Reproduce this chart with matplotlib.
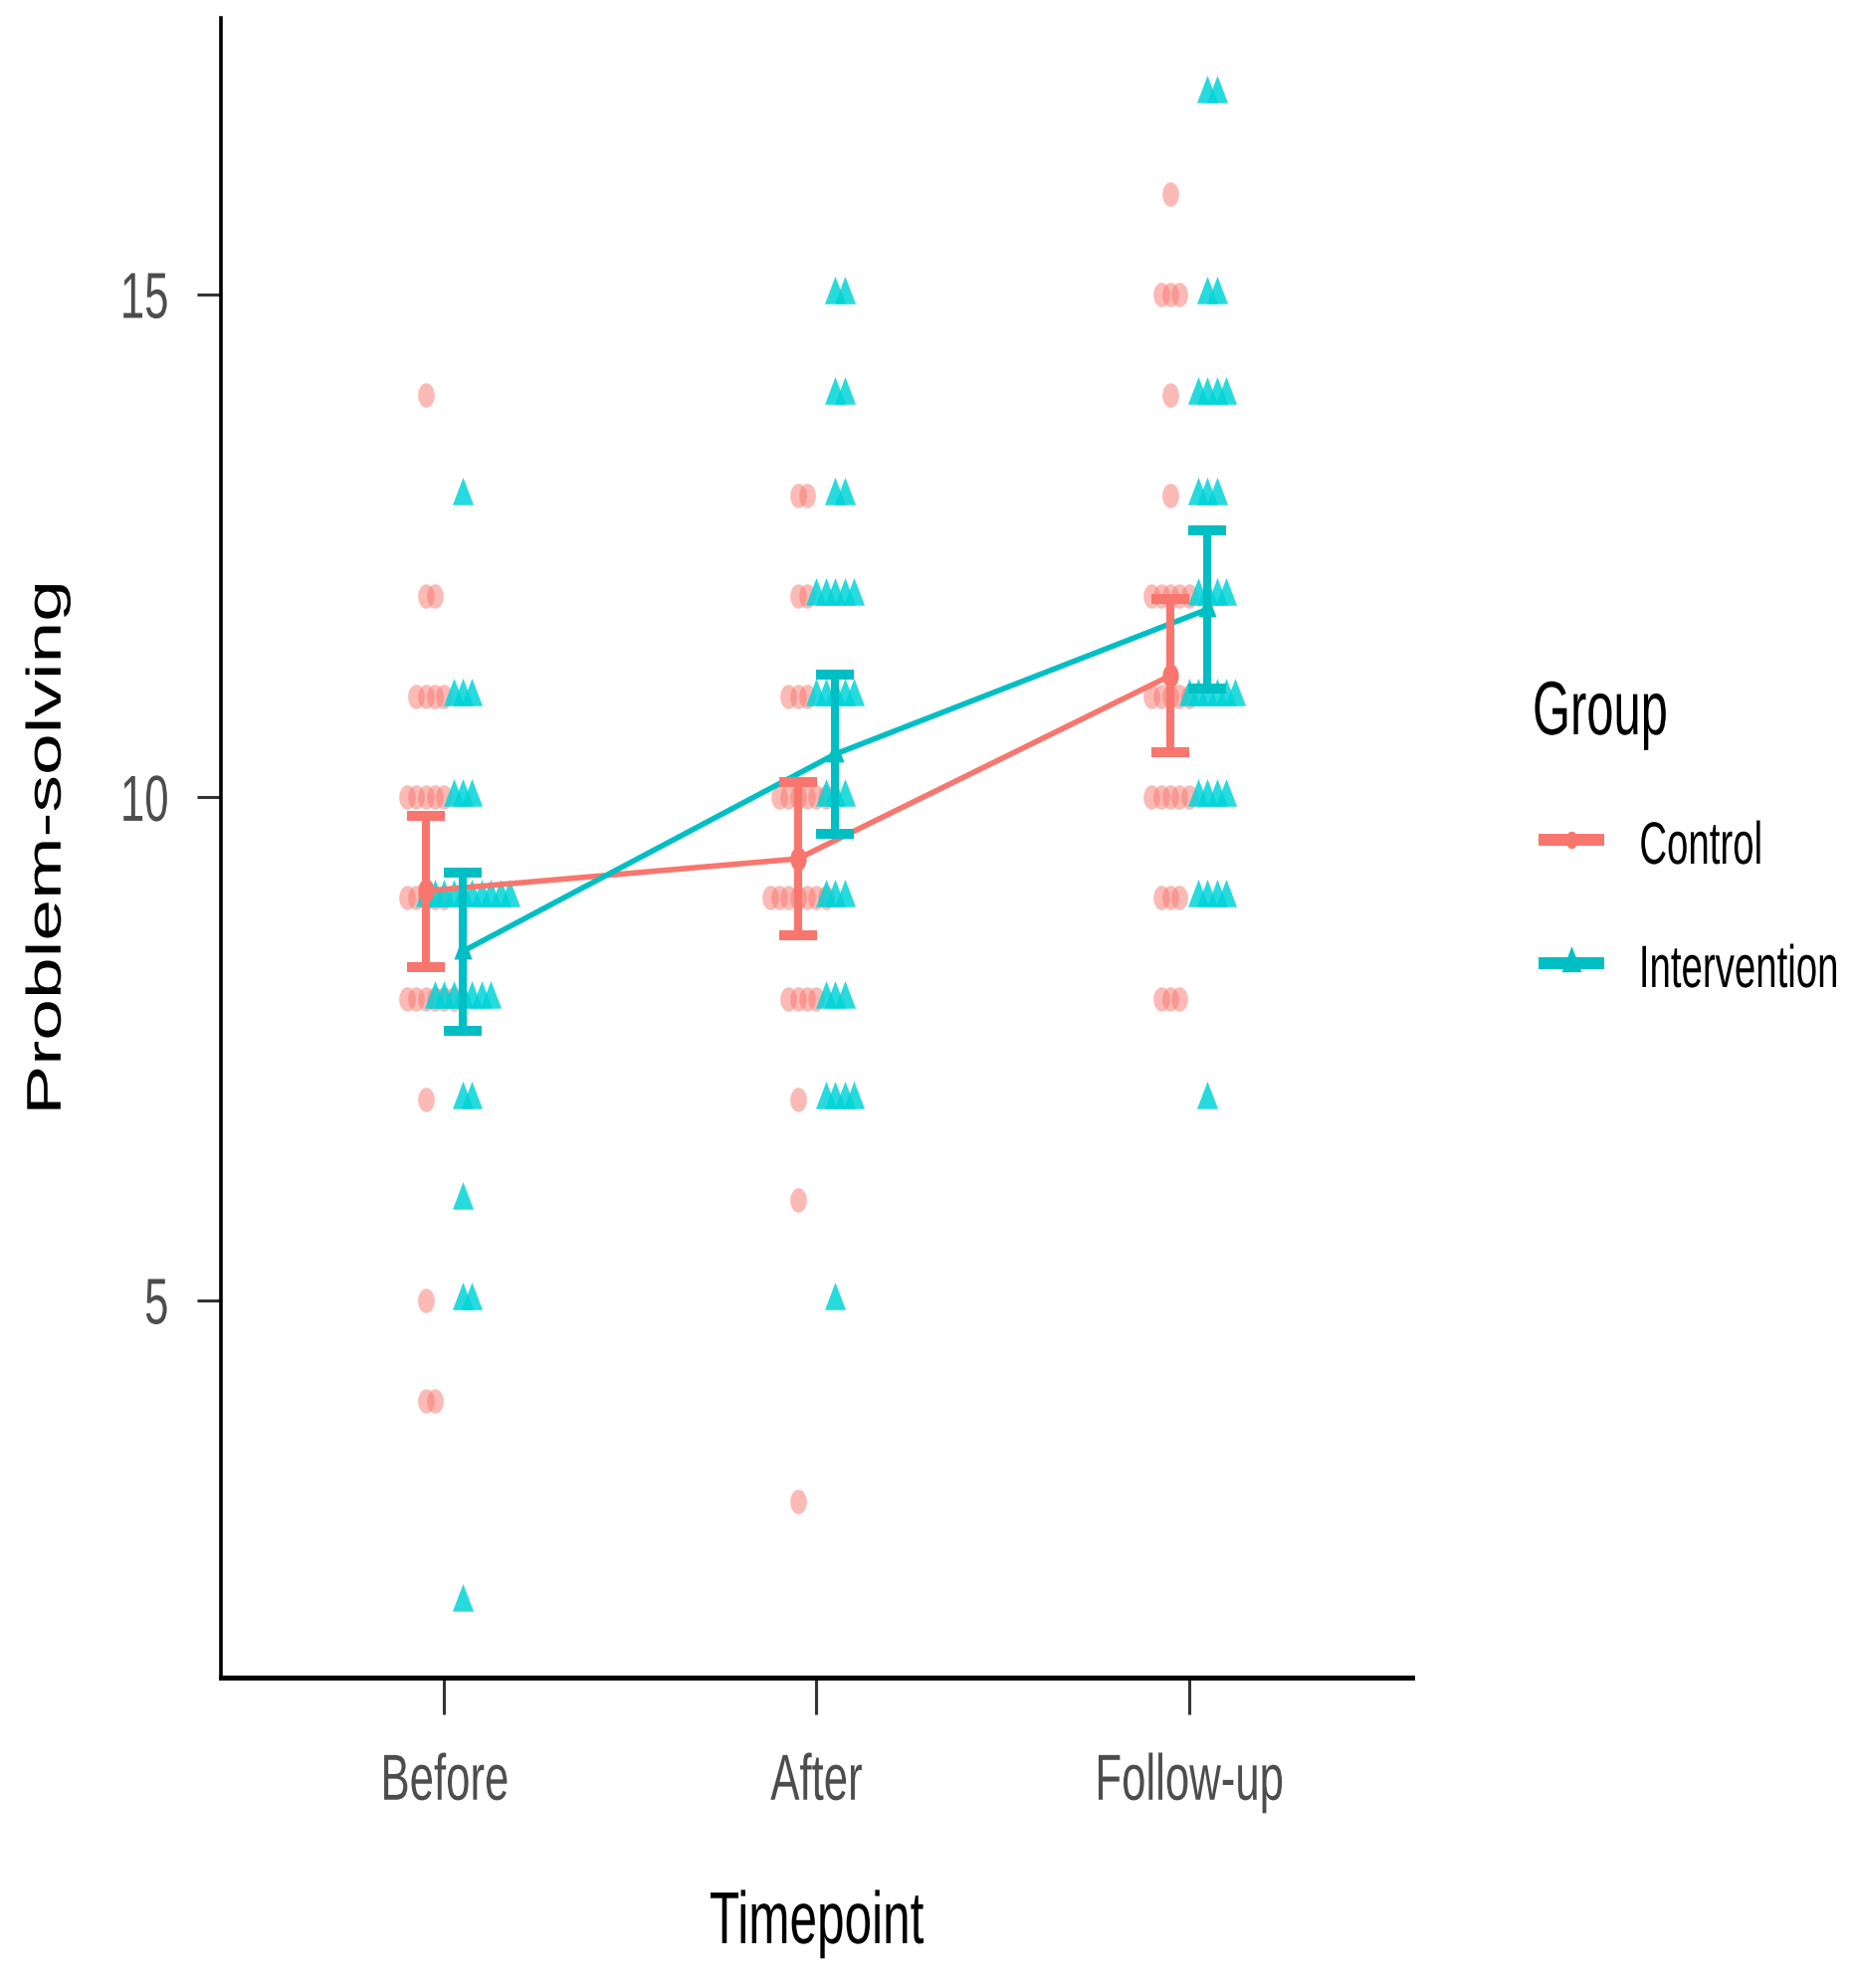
import numpy as np
import matplotlib
matplotlib.use("Agg")
import matplotlib.pyplot as plt
from matplotlib import font_manager
from matplotlib.path import Path
from matplotlib.lines import Line2D
from matplotlib.transforms import Affine2D
from matplotlib.patheffects import AbstractPathEffect

# --- data ---
timepoints = ['Before', 'After', 'Follow-up']
groups = ['Control', 'Intervention']

control_before = [14, 12, 12, 11, 11, 11, 11, 10, 10, 10, 10, 10, 9, 9, 9, 9, 9,
                  8, 8, 8, 8, 8, 8, 7, 5, 4, 4]
control_after = [13, 13, 12, 12, 11, 11, 11, 10, 10, 10, 10, 10, 10, 9, 9, 9, 9, 9,
                 9, 9, 8, 8, 8, 8, 7, 6, 3]
control_follow = [16, 15, 15, 15, 14, 13, 12, 12, 12, 12, 12, 11, 11, 11, 11, 11,
                  10, 10, 10, 10, 10, 9, 9, 9, 8, 8, 8]

interv_before = [13, 11, 11, 11, 10, 10, 10, 9, 9, 9, 9, 9, 9, 9, 9, 9, 9,
                 8, 8, 8, 8, 8, 8, 8, 7, 7, 6, 5, 5, 2]
interv_after = [15, 15, 14, 14, 13, 13, 12, 12, 12, 12, 12, 11, 11, 11, 11, 11,
                10, 10, 10, 9, 9, 9, 8, 8, 8, 7, 7, 7, 7, 5]
interv_follow = [17, 17, 15, 15, 14, 14, 14, 14, 13, 13, 13, 12, 12, 12, 12,
                 11, 11, 11, 11, 11, 11, 10, 10, 10, 10, 9, 9, 9, 9, 7]

# group means and 95% CI limits
control_mean = [9.07, 9.39, 11.21]
control_lo = [8.31, 8.63, 10.45]
control_hi = [9.82, 10.15, 11.97]
interv_mean = [8.47, 10.43, 11.87]
interv_lo = [7.68, 9.64, 11.08]
interv_hi = [9.25, 11.22, 12.66]

RED = '#F8766D'
CYAN = '#00BFC4'

avail = {f.name for f in font_manager.fontManager.ttflist}
FONT = 'Liberation Sans' if 'Liberation Sans' in avail else 'DejaVu Sans'
plt.rcParams['font.family'] = [FONT, 'DejaVu Sans']


class Squash(AbstractPathEffect):
    """Draw text glyphs squeezed along one local axis (the source image is
    compressed horizontally)."""

    def __init__(self, sx=1.0, sy=1.0, anchor='center'):
        super().__init__()
        self.sx, self.sy, self.anchor = sx, sy, anchor

    def draw_path(self, renderer, gc, tpath, affine, rgbFace=None):
        ext = tpath.get_extents()
        if self.anchor == 'left':
            cx = 0.0
        elif self.anchor == 'right':
            cx = ext.x1
        else:
            cx = 0.5 * (ext.x0 + ext.x1)
        cy = 0.5 * (ext.y0 + ext.y1)
        pre = Affine2D().translate(-cx, -cy).scale(self.sx, self.sy).translate(cx, cy)
        renderer.draw_path(gc, tpath, pre + affine, rgbFace)


# squashed markers
t = np.linspace(0, 2 * np.pi, 64)
ellipse = Path(np.column_stack([0.68 * np.cos(t), np.sin(t)]), closed=True)
triangle = Path([(0, 0.667), (-0.38, -0.333), (0.38, -0.333), (0, 0.667)], closed=True)


def stack_offsets(scores):
    scores = np.asarray(scores)
    off = np.zeros(len(scores))
    for v in np.unique(scores):
        idx = np.where(scores == v)[0]
        n = len(idx)
        off[idx] = np.arange(n) - (n - 1) // 2
    return off


fig = plt.figure(figsize=(9.31, 9.99), dpi=200)
ax = fig.add_axes([0.1192, 0.1562, 0.6429, 0.8348])

pos = np.arange(1, 4)
dodge = 0.05
step = 0.025

series = [
    (groups[0], [control_before, control_after, control_follow], -dodge, RED, ellipse,
     control_mean, control_lo, control_hi),
    (groups[1], [interv_before, interv_after, interv_follow], dodge, CYAN, triangle,
     interv_mean, interv_lo, interv_hi),
]

# raw scores as stacked dots
for name, data, dx, col, mk, *_ in series:
    for p, scores in zip(pos, data):
        xs = p + dx + stack_offsets(scores) * step
        if name == 'Control':
            ax.scatter(xs, scores, s=78, marker=mk, color=col, alpha=0.5,
                       linewidths=0, zorder=2)
        else:
            ax.scatter(xs, scores, s=177, marker=mk, color='#00D4D8', alpha=0.85,
                       linewidths=0, zorder=2)

# means, lines and error bars
for name, data, dx, col, mk, m, lo, hi in series:
    xs = pos + dx
    m = np.array(m)
    ax.plot(xs, m, color=col, lw=2.0, zorder=3)
    ax.errorbar(xs, m, yerr=[m - np.array(lo), np.array(hi) - m], fmt='none',
                ecolor=col, elinewidth=2.9, capsize=6.8, capthick=3.6, zorder=4)
    ms = 8.6 if name == 'Control' else 11.4
    ax.plot(xs, m, linestyle='none', marker=mk, markersize=ms, color=col,
            markeredgewidth=0, zorder=5)

ax.set_xlim(0.4, 3.6)
ax.set_ylim(1.25, 17.75)
ax.set_xticks(pos)
ax.set_xticklabels(timepoints)
ax.set_yticks([5, 10, 15])
ax.set_yticklabels(['5', '10', '15'])

for s in ['top', 'right']:
    ax.spines[s].set_visible(False)
ax.spines['left'].set_linewidth(1.3)
ax.spines['bottom'].set_linewidth(1.8)

ax.tick_params(axis='x', length=13.3, width=1.1, color='#333333', pad=14,
               labelsize=23.5, labelcolor='#4D4D4D')
ax.tick_params(axis='y', length=8.6, width=1.1, color='#333333', pad=10,
               labelsize=23.5, labelcolor='#4D4D4D')
for lab in ax.get_xticklabels():
    lab.set_path_effects([Squash(0.67, 1.0, 'center')])
for lab in ax.get_yticklabels():
    lab.set_path_effects([Squash(0.67, 1.0, 'right')])

ax.set_xlabel('Timepoint', fontsize=26.6)
ax.xaxis.set_label_coords(0.5, -0.1277)
ax.xaxis.label.set_path_effects([Squash(0.67, 1.0, 'center')])
ax.set_ylabel('Problem-solving', fontsize=27)
ax.yaxis.set_label_coords(-0.1164, 0.5)
ax.yaxis.label.set_path_effects([Squash(1.0, 0.65, 'center')])

# legend drawn by hand to sit where the original one does
W, H = 1862.0, 1998.0
fig.text(1540 / W, 1 - 738 / H, 'Group', fontsize=27.5, ha='left', va='baseline',
         path_effects=[Squash(0.64, 1.0, 'left')])
# labels are right-aligned so their (unsqueezed) box stays inside the figure
legend_rows = [(groups[0], RED, ellipse, 6.3, 844, 868, 1772),
               (groups[1], CYAN, triangle, 12.5, 968, 992, 1848)]
for label, col, mk, ms, ky, ty, tx in legend_rows:
    fig.add_artist(Line2D([1546 / W, 1612 / W], [1 - ky / H, 1 - ky / H],
                          transform=fig.transFigure, color=col, lw=4.3,
                          solid_capstyle='butt'))
    fig.add_artist(Line2D([1579 / W], [1 - ky / H], transform=fig.transFigure,
                          marker=mk, markersize=ms, color=col, markeredgewidth=0,
                          linestyle='none'))
    fig.text(tx / W, 1 - ty / H, label, fontsize=21.6, ha='right', va='baseline',
             path_effects=[Squash(0.64, 1.0, 'right')])

fig.savefig('out.png', dpi=200)
